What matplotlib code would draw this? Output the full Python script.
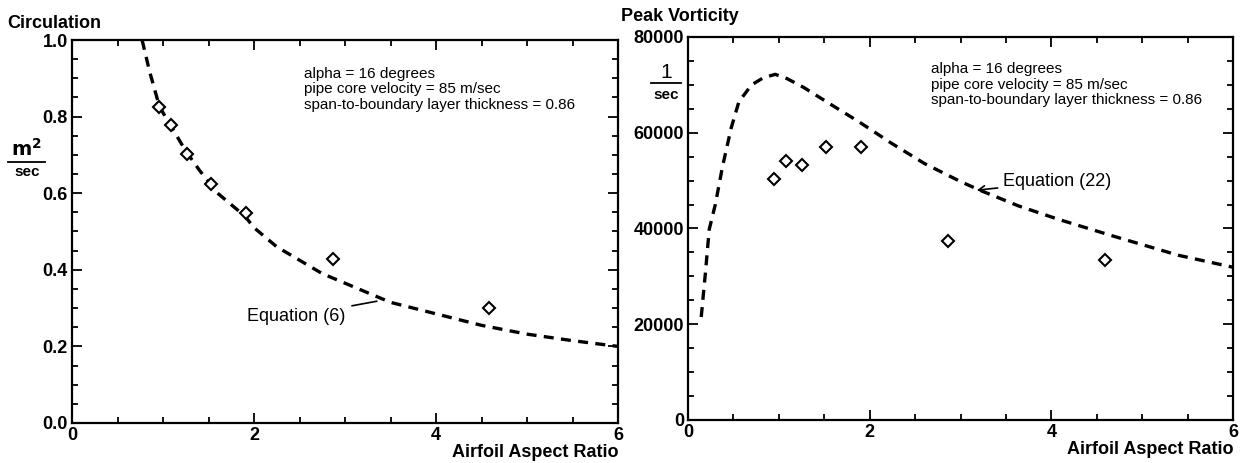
import matplotlib
matplotlib.use("Agg")
import matplotlib.pyplot as plt
from matplotlib.ticker import MultipleLocator

plt.rcParams['font.family'] = ['Liberation Sans', 'DejaVu Sans']

# circulation panel
circ_x = [0.958, 1.089, 1.268, 1.53, 1.91, 2.864, 4.578]
circ_y = [0.824, 0.779, 0.702, 0.625, 0.549, 0.429, 0.299]
circ_eq_x = [0.77, 0.85, 0.95, 1.0, 1.1, 1.25, 1.4, 1.6, 1.8, 1.9, 2.0, 2.25, 2.5, 2.75,
             3.0, 3.25, 3.5, 3.75, 4.0, 4.5, 5.0, 5.5, 6.0]
circ_eq_y = [1.0, 0.92, 0.835, 0.81, 0.77, 0.71, 0.66, 0.60, 0.56, 0.54, 0.51, 0.46, 0.425, 0.39,
             0.365, 0.34, 0.315, 0.30, 0.285, 0.255, 0.232, 0.215, 0.20]

# vorticity panel
vort_x = [0.95, 1.083, 1.259, 1.514, 1.906, 2.861, 4.595]
vort_y = [50400, 54000, 53170, 56970, 57100, 37290, 33330]
vort_eq_x = [0.145, 0.19, 0.233, 0.30, 0.38, 0.475, 0.56, 0.70, 0.83, 0.96, 1.09, 1.27, 1.53,
             1.88, 2.24, 2.6, 3.0, 3.2, 3.64, 4.08, 4.7, 5.4, 6.0]
vort_eq_y = [21500, 30500, 39800, 45000, 53000, 61000, 66500, 70000, 71500, 72200, 71300, 69500,
             66400, 62300, 57800, 53600, 49800, 48100, 44700, 41900, 38300, 34400, 31900]

note = "alpha = 16 degrees\npipe core velocity = 85 m/sec\nspan-to-boundary layer thickness = 0.86"

fig = plt.figure(figsize=(12.44, 4.63), dpi=100)
ax1 = fig.add_axes([0.0579, 0.0864, 0.4389, 0.8272])
ax2 = fig.add_axes([0.5531, 0.0929, 0.4381, 0.8272])

dash = dict(color='black', lw=2.4, ls=(0, (3, 2.2)))
mk = dict(ls='none', marker='D', ms=6, mfc='white', mec='black', mew=1.5)

ax1.plot(circ_eq_x, circ_eq_y, **dash)
ax1.plot(circ_x, circ_y, **mk)
ax1.set_xlim(0, 6)
ax1.set_ylim(0, 1.0)
ax1.yaxis.set_major_locator(MultipleLocator(0.2))
ax1.yaxis.set_minor_locator(MultipleLocator(0.05))
ax1.yaxis.set_major_formatter(matplotlib.ticker.FormatStrFormatter('%.1f'))
ax1.text(2.55, 0.93, note, fontsize=11, va='top', linespacing=1.15)
ax1.annotate("Equation (6)", xy=(3.35, 0.318), xytext=(3.0, 0.279),
             fontsize=13, ha='right', va='center',
             arrowprops=dict(arrowstyle='-', color='black', lw=1.2, shrinkA=3, shrinkB=0))
fig.text(0.006, 0.950, "Circulation", fontsize=13, fontweight='bold', va='center')
fig.text(0.0215, 0.655, r"$\mathbf{m^2}$", fontsize=14, ha='center', va='bottom')
fig.text(0.0215, 0.643, "sec", fontsize=11, fontweight='bold', ha='center', va='top')
fig.add_artist(plt.Line2D([0.0065, 0.036], [0.650, 0.650], color='black', lw=1.3))

ax2.plot(vort_eq_x, vort_eq_y, **dash)
ax2.plot(vort_x, vort_y, **mk)
ax2.set_xlim(0, 6)
ax2.set_ylim(0, 80000)
ax2.yaxis.set_major_locator(MultipleLocator(20000))
ax2.yaxis.set_minor_locator(MultipleLocator(5000))
ax2.text(2.68, 74800, note, fontsize=11, va='top', linespacing=1.15)
ax2.annotate("Equation (22)", xy=(3.18, 48000), xytext=(3.47, 49800),
             fontsize=13, ha='left', va='center',
             arrowprops=dict(arrowstyle='->,head_length=0.35,head_width=0.2',
                             color='black', lw=1.2, shrinkA=2, shrinkB=0))
fig.text(0.5355, 0.823, "1", fontsize=15, ha='center', va='bottom')
fig.add_artist(plt.Line2D([0.5235, 0.5475], [0.821, 0.821], color='black', lw=1.3))
fig.text(0.5355, 0.811, "sec", fontsize=11, fontweight='bold', ha='center', va='top')
fig.text(0.499, 0.965, "Peak Vorticity", fontsize=13, fontweight='bold', va='center')

for ax in (ax1, ax2):
    ax.xaxis.set_major_locator(MultipleLocator(2))
    ax.xaxis.set_minor_locator(MultipleLocator(0.5))
    ax.tick_params(which='both', direction='in', top=True, right=True, width=1.3)
    ax.tick_params(which='major', length=7, labelsize=13, pad=3)
    ax.tick_params(which='minor', length=4)
    for s in ax.spines.values():
        s.set_linewidth(1.6)
    for lab in ax.get_xticklabels() + ax.get_yticklabels():
        lab.set_fontweight('bold')
    ax.set_xlabel("Airfoil Aspect Ratio", fontsize=13, fontweight='bold', loc='right', labelpad=0)

fig.savefig("out.png", dpi=100)
